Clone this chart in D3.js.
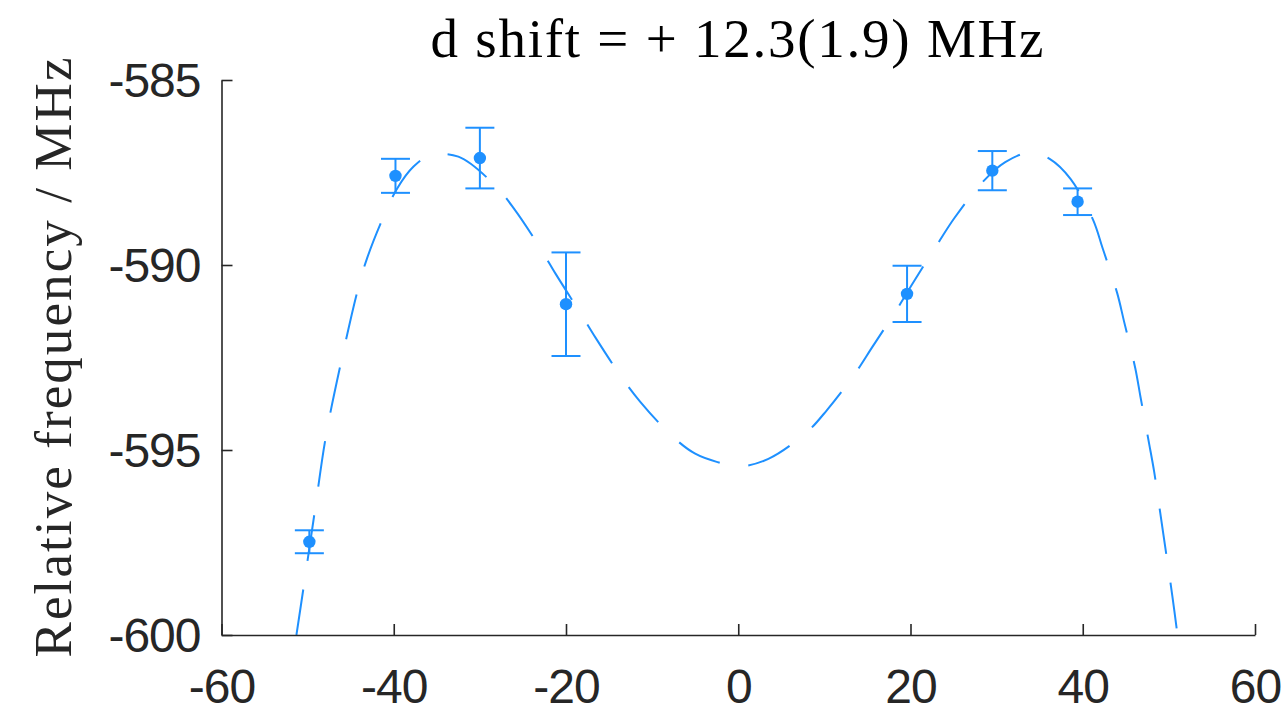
<!DOCTYPE html>
<html>
<head>
<meta charset="utf-8">
<script src="https://cdn.jsdelivr.net/npm/d3@7"></script>
<style>
  html, body { margin: 0; padding: 0; background: #fff; }
  svg { display: block; }
</style>
</head>
<body>
<svg id="chart" width="1281" height="715"></svg>
<script>
// Axis ticks
const xTicks = [-60, -40, -20, 0, 20, 40, 60];
const yTicks = [-600, -595, -590, -585];

// Measured transition frequencies with 1-sigma uncertainties
const pointX = [-49.8, -39.8, -30.0, -20.0, 19.6, 29.5, 39.4];
const pointY = [-597.48, -587.59, -587.11, -591.06, -590.78, -587.45, -588.29];
const pointErr = [0.31, 0.46, 0.82, 1.40, 0.76, 0.53, 0.36];

// Fitted model curve
const fitX = [-51.3, -50.5, -49.2, -47.9, -46.1, -44.1, -43.1, -41.1, -39.6, -37.7,
  -35.8, -32.5, -28.2, -26.0, -23.0, -21.2, -18.3, -16.5, -13.5, -11.4,
  -7.7, -5.0, -2.5, 0.2, 3.5, 8.0, 10.3, 13.6, 15.5, 18.5,
  20.3, 23.2, 25.1, 28.4, 31.0, 33.9, 36.2, 38.6, 41.2, 42.3,
  44.0, 44.8, 46.1, 46.7, 47.7, 48.3, 49.1, 49.6, 50.4, 51.0];
const fitY = [-600.0, -598.76, -596.71, -594.66, -592.61, -590.60, -589.82, -588.65, -587.93, -587.34,
  -587.04, -587.07, -587.86, -588.49, -589.54, -590.24, -591.31, -591.99, -593.05, -593.69,
  -594.62, -595.10, -595.32, -595.44, -595.24, -594.51, -593.92, -592.92, -592.24, -591.17,
  -590.48, -589.41, -588.73, -587.75, -587.22, -586.96, -587.14, -587.68, -588.78, -589.54,
  -590.76, -591.53, -592.79, -593.56, -594.82, -595.60, -596.86, -597.66, -598.94, -600.0];

const titleText = "d shift = + 12.3(1.9) MHz";
const yLabelText = "Relative frequency / MHz";

const axisColor = "#262626";
const seriesColor = "#1E90FF";

const svg = d3.select("#chart");
const plotLeft = 221.5, plotRight = 1255, plotTop = 80, plotBottom = 635;

const x = d3.scaleLinear().domain([-60, 60]).range([plotLeft, plotRight]);
const y = d3.scaleLinear().domain([-600, -585]).range([plotBottom, plotTop]);

svg.append("rect").attr("width", 1281).attr("height", 715).attr("fill", "#fff");

svg.append("defs").append("clipPath").attr("id", "plot-clip")
  .append("rect")
  .attr("x", plotLeft).attr("y", plotTop)
  .attr("width", plotRight - plotLeft).attr("height", plotBottom - plotTop);

// Fitted curve (dashed)
const fitData = fitX.map((d, i) => [d, fitY[i]]);
const line = d3.line()
  .x(d => x(d[0]))
  .y(d => y(d[1]))
  .curve(d3.curveCatmullRom.alpha(0.5));

svg.append("path")
  .datum(fitData)
  .attr("clip-path", "url(#plot-clip)")
  .attr("d", line)
  .attr("fill", "none")
  .attr("stroke", seriesColor)
  .attr("stroke-width", 2)
  .attr("stroke-dasharray", "46,29");

// Error bars
const pts = pointX.map((d, i) => ({ x: d, y: pointY[i], e: pointErr[i] }));
const capHalf = 14.5;
const eb = svg.append("g")
  .attr("stroke", seriesColor)
  .attr("stroke-width", 2)
  .attr("fill", "none");

pts.forEach(p => {
  const cx = x(p.x);
  const y0 = y(p.y - p.e), y1 = y(p.y + p.e);
  eb.append("line").attr("x1", cx).attr("x2", cx).attr("y1", y0).attr("y2", y1);
  eb.append("line").attr("x1", cx - capHalf).attr("x2", cx + capHalf).attr("y1", y0).attr("y2", y0);
  eb.append("line").attr("x1", cx - capHalf).attr("x2", cx + capHalf).attr("y1", y1).attr("y2", y1);
});

// Markers
svg.append("g").selectAll("circle")
  .data(pts)
  .join("circle")
  .attr("cx", d => x(d.x))
  .attr("cy", d => y(d.y))
  .attr("r", 6.2)
  .attr("fill", seriesColor);

// Axes (ticks pointing inward)
const fmt = d => d3.format("d")(d).replace("\u2212", "-");
const xAxis = d3.axisBottom(x).tickValues(xTicks).tickSize(-11).tickPadding(34).tickSizeOuter(0).tickFormat(fmt);
const yAxis = d3.axisLeft(y).tickValues(yTicks).tickSize(-11).tickPadding(21).tickSizeOuter(0).tickFormat(fmt);

const gx = svg.append("g").attr("transform", `translate(0,${plotBottom})`).call(xAxis);
const gy = svg.append("g").attr("transform", `translate(${plotLeft},0)`).call(yAxis);

[gx, gy].forEach(g => {
  g.select(".domain").attr("stroke", axisColor).attr("stroke-width", 1.6);
  g.selectAll(".tick line").attr("stroke", axisColor).attr("stroke-width", 1.6);
  g.selectAll(".tick text")
    .attr("fill", axisColor)
    .style("font-family", "'Liberation Sans', Arial, Helvetica, sans-serif")
    .style("font-size", "48px")
    .style("letter-spacing", "-1px");
});
gx.selectAll(".tick text").attr("dy", "0.71em");
gy.selectAll(".tick text").attr("dy", "0.35em");

// Title
svg.append("text")
  .attr("x", 737)
  .attr("y", 57)
  .attr("text-anchor", "middle")
  .attr("fill", "#000")
  .attr("textLength", 613)
  .attr("lengthAdjust", "spacing")
  .style("font-family", "'Liberation Serif', 'DejaVu Serif', serif")
  .style("font-size", "55px")
  .text(titleText);

// Y axis label
svg.append("text")
  .attr("transform", `translate(71,${(plotTop + plotBottom) / 2}) rotate(-90)`)
  .attr("text-anchor", "middle")
  .attr("fill", "#262626")
  .attr("textLength", 600)
  .attr("lengthAdjust", "spacing")
  .style("font-family", "'Liberation Serif', 'DejaVu Serif', serif")
  .style("font-size", "53px")
  .text(yLabelText);
</script>
</body>
</html>
